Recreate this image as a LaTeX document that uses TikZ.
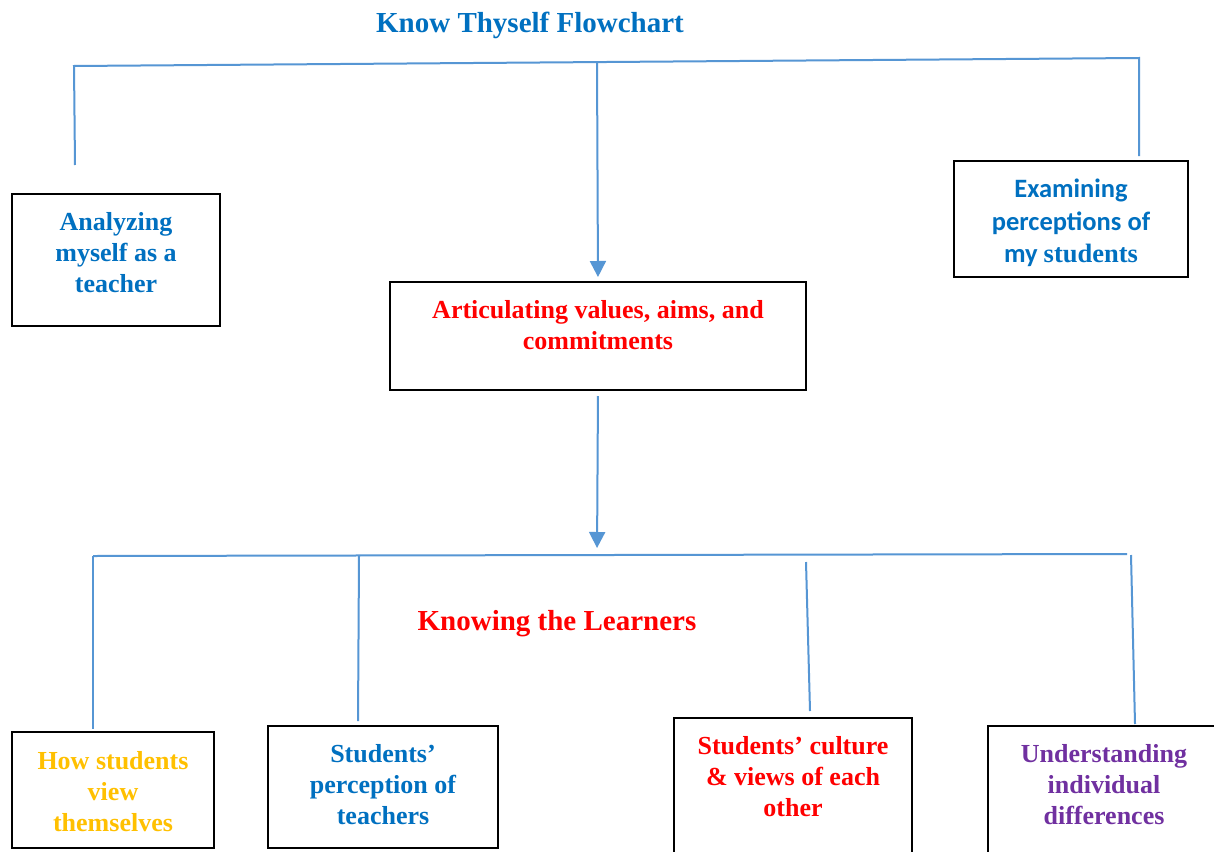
\documentclass[tikz,border=0pt]{standalone}
\usepackage{fontspec}
\setmainfont{Liberation Serif}
\newfontfamily\calfont{Carlito}
\usetikzlibrary{arrows.meta}
\definecolor{lineblue}{RGB}{86,150,212}
\definecolor{tblue}{RGB}{0,112,192}
\definecolor{tred}{RGB}{255,0,0}
\definecolor{tgold}{RGB}{255,192,0}
\definecolor{tpurple}{RGB}{112,48,160}
\begin{document}
\begin{tikzpicture}[x=1pt,y=-1pt,
  box/.style={draw=black, line width=2pt, inner sep=0pt},
  txt/.style={font=\bfseries\fontsize{26}{31}\selectfont, align=center, inner sep=0pt},
  head/.style={font=\bfseries\fontsize{29}{34}\selectfont, inner sep=0pt},
  conn/.style={draw=lineblue, line width=2pt},
  arr/.style={conn, -{Triangle[width=16pt,length=16pt]}}]
\useasboundingbox (0,0) rectangle (1214,851);
\clip (0,0) rectangle (1214,851);
\fill[white] (0,0) rectangle (1214,851);

% title
\node[head, text=tblue] (title) at (530,25) {Know Thyself Flowchart};

% boxes
\node[box, minimum width=208, minimum height=132] (A) at (116,260) {};
\node[box, minimum width=234, minimum height=116] (E) at (1071,219) {};
\node[box, minimum width=416, minimum height=108] (C) at (598,336) {};
\node[box, minimum width=202, minimum height=116] (H) at (113,790) {};
\node[box, minimum width=230, minimum height=122] (S) at (383,787) {};
\node[box, minimum width=238, minimum height=182] (Cu) at (793,809) {};
\node[box, minimum width=252, minimum height=174] (U) at (1114,813) {};

% texts
\node[txt, text=tblue] (At) at (116,253) {Analyzing\\myself as a\\teacher};
\node[txt, text=tblue, font=\calfont\bfseries\fontsize{26.5}{32.5}\selectfont] (Et) at (1071,223) {Examining\\perceptions of\\my {\rmfamily students}};
\node[txt, text=tred] (Ct) at (598,325) {Articulating values, aims, and\\commitments};
\node[txt, text=tgold] (Ht) at (113,792) {How students\\view\\themselves};
\node[txt, text=tblue] (St) at (383,785) {Students’\\perception of\\teachers};
\node[txt, text=tred] (Cut) at (793,777) {Students’ culture\\\& views of each\\other};
\node[txt, text=tpurple] (Ut) at (1104,785) {Understanding\\individual\\differences};
\node[head, text=tred] (KL) at (557,624) {Knowing the Learners};

% top tree
\coordinate (tl) at (74,66);
\coordinate (tr) at (1139,58);
\coordinate (tm) at (597,63);
\coordinate (tlend) at (75,165);
\draw[conn] (tlend) -- (tl) -- (tr) -- ([yshift=4pt]E.north -| tr);
\draw[arr, shorten >=4pt] (tm) -- (C.north);

% middle arrow
\coordinate (bm) at (597,555);
\draw[arr, shorten <=5pt, shorten >=7pt] (C.south) -- (bm);

% bottom tree
\coordinate (b1) at (93,556);
\coordinate (b2) at (359,556);
\coordinate (b3) at (806,562);
\coordinate (b4) at (1131,555);
\coordinate (bend) at (1127,554);
\draw[conn] (b1) -- (bend);
\draw[conn] (b1) -- ([yshift=2pt]H.north -| b1);
\draw[conn] (b2) -- ([xshift=-1pt,yshift=4pt]S.north -| b2);
\draw[conn] (b3) -- ([xshift=4pt,yshift=6pt]Cu.north -| b3);
\draw[conn] (b4) -- ([xshift=4pt,yshift=1pt]U.north -| b4);
\end{tikzpicture}
\end{document}
